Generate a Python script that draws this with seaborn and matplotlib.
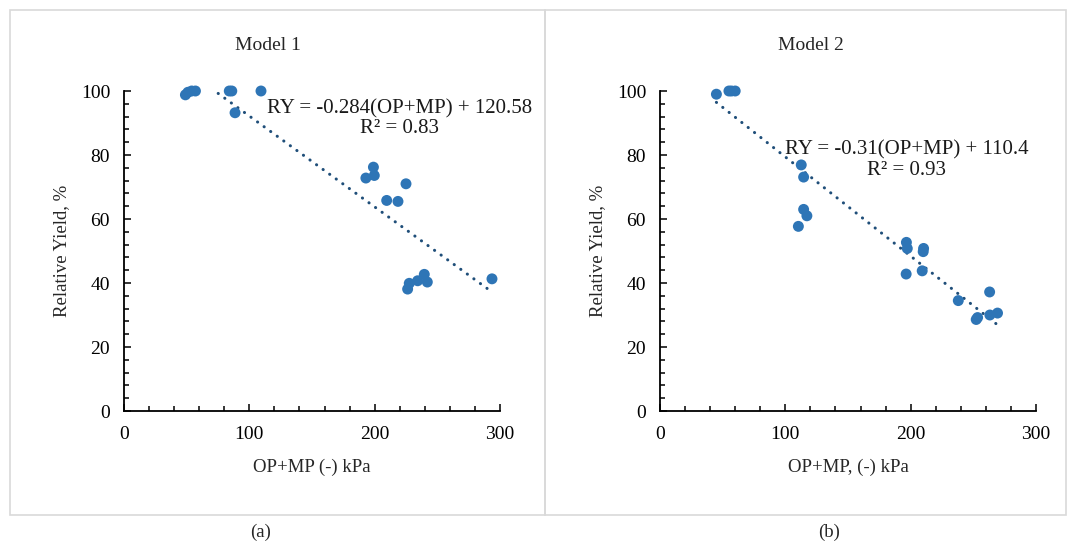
import matplotlib
matplotlib.use("Agg")
import matplotlib.pyplot as plt
import seaborn as sns
import numpy as np
import pandas as pd
from matplotlib.patches import Rectangle
from matplotlib.ticker import MultipleLocator

# ---- data ----
x_model1 = [49, 51, 54, 57, 84, 86, 88.6, 109.3, 193, 199, 199.7, 209.6, 218.6, 225,
            226.3, 227.6, 234.3, 239.6, 242, 293.6]
y_model1 = [98.8, 99.6, 100, 100, 100, 100, 93.2, 100, 72.8, 76.2, 73.6, 65.8, 65.5, 71,
            38.1, 39.9, 40.7, 42.7, 40.3, 41.3]
x_model2 = [45, 55, 57, 60, 110.4, 112.7, 114.6, 114.6, 117.2, 196.4, 196.6, 197.3,
            209.2, 210, 210.3, 238, 252.3, 253.4, 263, 263.2, 269.3]
y_model2 = [99, 100, 100, 100, 57.7, 76.9, 73.1, 63, 61, 42.8, 52.7, 50.8,
            43.8, 49.8, 50.8, 34.5, 28.6, 29.2, 37.2, 30, 30.6]
slopes = [-0.284, -0.31]
intercepts = [120.58, 110.4]
equations = ["RY = -0.284(OP+MP) + 120.58\nR² = 0.83", "RY = -0.31(OP+MP) + 110.4\nR² = 0.93"]
titles = ["Model 1", "Model 2"]
xlabels = ["OP+MP (-) kPa", "OP+MP, (-) kPa"]
ylabel = "Relative Yield, %"
panel_tags = ["(a)", "(b)"]

sns.set_style("ticks")
plt.rcParams["font.family"] = ["Liberation Serif", "DejaVu Serif"]

W, H = 1069, 544
fig = plt.figure(figsize=(W / 100, H / 100), dpi=100)

def fx(px):
    return px / W

def fy(py):
    return 1 - py / H

# panel borders
for (x0, x1) in [(10, 545), (545, 1066)]:
    fig.patches.append(Rectangle((fx(x0), fy(515)), fx(x1 - x0), (515 - 10) / H,
                                 transform=fig.transFigure, fill=False,
                                 edgecolor="#d9d9d9", linewidth=1.2, zorder=0))

point_color = "#2E75B6"
line_color = "#1F4E79"

datasets = [(x_model1, y_model1), (x_model2, y_model2)]
ax_lefts = [124, 660]
eq_pos = [(220, 91.4), (197, 78.4)]
title_x = [268, 811]

for i, (xs, ys) in enumerate(datasets):
    left = ax_lefts[i]
    ax = fig.add_axes([fx(left), fy(411), fx(376), (411 - 91) / H])
    df = pd.DataFrame({"x": xs, "y": ys})
    sns.scatterplot(data=df, x="x", y="y", ax=ax, color=point_color, s=62,
                    edgecolor="none", zorder=3, clip_on=False)
    xt = np.array([min(xs), max(xs)])
    tdf = pd.DataFrame({"x": xt, "y": slopes[i] * xt + intercepts[i]})
    sns.lineplot(data=tdf, x="x", y="y", ax=ax, color=line_color, linewidth=2.2,
                 linestyle=(0, (0.05, 2.6)), dash_capstyle="round", zorder=2)
    ax.set_xlim(0, 300)
    ax.set_ylim(0, 100)
    ax.xaxis.set_major_locator(MultipleLocator(100))
    ax.xaxis.set_minor_locator(MultipleLocator(20))
    ax.yaxis.set_major_locator(MultipleLocator(20))
    ax.yaxis.set_minor_locator(MultipleLocator(4))
    ax.tick_params(axis="both", which="major", direction="in", length=5, width=1.1,
                   labelsize=14, colors="black")
    ax.tick_params(axis="both", which="minor", direction="in", length=3.5, width=1.1,
                   colors="black")
    ax.tick_params(axis="y", which="major", pad=10)
    ax.tick_params(axis="x", which="major", pad=11)
    for s in ["top", "right"]:
        ax.spines[s].set_visible(False)
    for s in ["left", "bottom"]:
        ax.spines[s].set_linewidth(1.3)
        ax.spines[s].set_color("black")
    ax.set_xlabel("")
    ax.set_ylabel("")
    ax.patch.set_alpha(0)
    ax.text(eq_pos[i][0], eq_pos[i][1], equations[i], ha="center", va="center",
            multialignment="center", fontsize=15, color="#1a1a1a", linespacing=1.05,
            zorder=4)
    cx = left + 376 / 2
    fig.text(fx(title_x[i]), fy(46), titles[i], ha="center", va="center", fontsize=14)
    fig.text(fx(cx), fy(467), xlabels[i], ha="center", va="center", fontsize=13.5)
    fig.text(fx(left - 62), fy(251), ylabel, ha="center", va="center", rotation=90,
             fontsize=13.5)

fig.text(fx(261), fy(532), panel_tags[0], ha="center", va="center", fontsize=13.5)
fig.text(fx(829), fy(532), panel_tags[1], ha="center", va="center", fontsize=13.5)

fig.savefig("out.png", dpi=100)
